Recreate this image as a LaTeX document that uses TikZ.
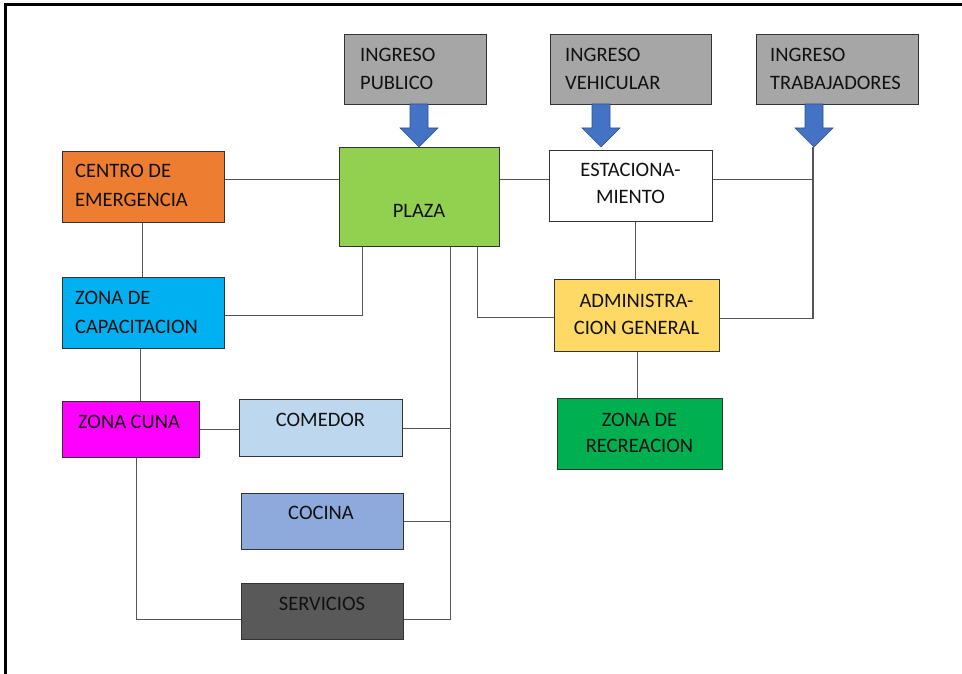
\documentclass[tikz,border=0pt]{standalone}
\usepackage{fontspec}
\setmainfont{Carlito}
\usetikzlibrary{calc}
\definecolor{ingc}{HTML}{A6A6A6}
\definecolor{arrc}{HTML}{4472C4}
\definecolor{arrd}{HTML}{2F528F}
\definecolor{plc}{HTML}{92D050}
\definecolor{cenc}{HTML}{ED7D31}
\definecolor{capc}{HTML}{00B0F0}
\definecolor{cunac}{HTML}{FF00FF}
\definecolor{comc}{HTML}{BDD7EE}
\definecolor{cocc}{HTML}{8EA9DB}
\definecolor{serc}{HTML}{595959}
\definecolor{admc}{HTML}{FFD966}
\definecolor{recc}{HTML}{00B050}
\definecolor{txtc}{HTML}{111111}
\definecolor{bordc}{HTML}{333333}
\definecolor{linec}{HTML}{555555}
\newcommand\blockarr[1]{%
  \filldraw[fill=arrc, draw=arrd, line width=0.6pt]
    ({#1-9},104) -- ({#1+9},104) -- ({#1+9},128) -- ({#1+19},128) --
    (#1,147) -- ({#1-19},128) -- ({#1-9},128) -- cycle;}
\begin{document}
\begin{tikzpicture}[x=1pt,y=-1pt,
  box/.style={draw=bordc, line width=1.2pt, rectangle, inner sep=0pt, anchor=north west},
  lbl/.style={inner sep=0pt, font=\fontsize{20.5}{24}\selectfont, text=txtc},
  conn/.style={draw=linec, line width=1.3pt}]
\useasboundingbox (0,0) rectangle (962,674);
\fill[white] (0,0) rectangle (962,674);
% frame
\draw[line width=2.2pt] (5.5,676) -- (5.5,4.5) -- (964,4.5);
% boxes
\node[box, fill=ingc, minimum width=142pt, minimum height=70pt] (pub) at (344,34) {};
\node[box, fill=ingc, minimum width=161pt, minimum height=70pt] (veh) at (550,34) {};
\node[box, fill=ingc, minimum width=162pt, minimum height=70pt] (trab) at (756,34) {};
\node[box, fill=plc, minimum width=160pt, minimum height=99pt] (pl) at (339,147) {};
\node[box, fill=cenc, minimum width=162pt, minimum height=71pt] (cen) at (62,151) {};
\node[box, fill=capc, minimum width=162pt, minimum height=71pt] (cap) at (62,277) {};
\node[box, fill=white, minimum width=163pt, minimum height=71pt] (est) at (549,150) {};
\node[box, fill=admc, minimum width=165pt, minimum height=72pt] (adm) at (554,279) {};
\node[box, fill=recc, minimum width=165pt, minimum height=71pt] (rec) at (557,398) {};
\node[box, fill=cunac, minimum width=137pt, minimum height=56pt] (cuna) at (62,401) {};
\node[box, fill=comc, minimum width=163pt, minimum height=57pt] (com) at (239,399) {};
\node[box, fill=cocc, minimum width=162pt, minimum height=56pt] (coc) at (241,493) {};
\node[box, fill=serc, minimum width=162pt, minimum height=56pt] (ser) at (241,583) {};
% block arrows
\blockarr{419}
\blockarr{601}
\blockarr{814}
\coordinate (tt) at (813,147);
% connectors
\draw[conn] ([yshift=7.5pt]cen.east) -- ([yshift=17.5pt]pl.west);
\draw[conn] ([xshift=-1pt]cen.south) -- ([xshift=-1pt]cap.north);
\draw[conn] ([yshift=-2.5pt]cap.east) -| ([xshift=-57pt]pl.south);
\draw[conn] ([yshift=17.5pt]pl.east) -- ([yshift=6.5pt]est.west);
\coordinate (e1) at ([yshift=6.5pt]est.east);
\draw[conn] (e1) -- (e1 -| tt);
\draw[conn] (tt) |- ([yshift=-3pt]adm.east);
\draw[conn] ([xshift=4.5pt]est.south) -- ([xshift=-1.5pt]adm.north);
\draw[conn] ([xshift=58pt]pl.south) |- ([yshift=-2pt]adm.west);
\draw[conn] ([xshift=0.5pt]adm.south) -- ([xshift=-2.5pt]rec.north);
\draw[conn] ([xshift=31pt]pl.south) |- ([yshift=-8pt]ser.east);
\coordinate (c1) at ([yshift=-0.5pt]com.east);
\draw[conn] (c1) -- ++(48,0);
\draw[conn] (coc.east) -- ++(47,0);
\draw[conn] ([xshift=-3pt]cap.south) -- ([xshift=9.5pt]cuna.north);
\draw[conn] (cuna.east) -- ([yshift=-1.5pt]com.west);
\draw[conn] ([xshift=5.5pt]cuna.south) |- ([yshift=-8pt]ser.west);
% labels
\node[lbl, anchor=base west] (pubT1) at (360,62) {INGRESO};
\node[lbl, anchor=base west] (pubT2) at (360,90) {PUBLICO};
\node[lbl, anchor=base west] (vehT1) at (565,62) {INGRESO};
\node[lbl, anchor=base west] (vehT2) at (565,90) {VEHICULAR};
\node[lbl, anchor=base west] (trabT1) at (770,62) {INGRESO};
\node[lbl, anchor=base west] (trabT2) at (770,90) {TRABAJADORES};
\node[lbl, anchor=base west] (cenT1) at (75,178) {CENTRO DE};
\node[lbl, anchor=base west] (cenT2) at (75,207) {EMERGENCIA};
\node[lbl, anchor=base west] (capT1) at (75,304) {ZONA DE};
\node[lbl, anchor=base west] (capT2) at (75,333) {CAPACITACION};
\node[lbl, anchor=base] (plT) at (419,218) {PLAZA};
\node[lbl, anchor=base] (estT1) at (630.5,177) {ESTACIONA-};
\node[lbl, anchor=base] (estT2) at (630.5,204) {MIENTO};
\node[lbl, anchor=base] (admT1) at (636.5,307) {ADMINISTRA-};
\node[lbl, anchor=base] (admT2) at (636.5,334) {CION GENERAL};
\node[lbl, anchor=base] (recT1) at (639.5,426) {ZONA DE};
\node[lbl, anchor=base] (recT2) at (639.5,452) {RECREACION};
\node[lbl, anchor=base] (cunaT) at (129,428) {ZONA CUNA};
\node[lbl, anchor=base] (comT) at (320.5,426) {COMEDOR};
\node[lbl, anchor=base] (cocT) at (321,519) {COCINA};
\node[lbl, anchor=base] (serT) at (322,610) {SERVICIOS};
\end{tikzpicture}
\end{document}
